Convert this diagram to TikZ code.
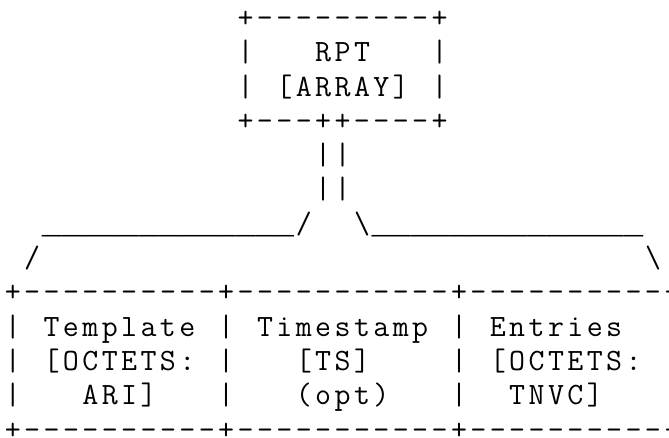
\documentclass[tikz,border=0pt]{standalone}
\usepackage{fontspec}
\newfontfamily\unders{Liberation Mono}
\newcommand\cw{19.4}
\newcommand\lh{34.3}
\newcommand\bl{27.4}
\tikzset{
  asc/.style={inner sep=0pt, outer sep=0pt, anchor=base west, text=black,
    font=\ttfamily\fontsize{31pt}{34.3pt}\selectfont},
  ascu/.style={asc, font=\unders\fontsize{32.33pt}{34.3pt}\selectfont}
}
% spread each character into a fixed-width cell
\def\spreadit#1{\spreadA#1\relax}
\def\spreadA#1{\ifx#1\relax\else\makebox[\cw pt]{#1}\expandafter\spreadA\fi}
% \ascat{name}{row}{col}{text}
\newcommand\ascat[4]{\node[asc] (#1) at ({3.1+\cw*#3 pt},{-(\bl+\lh*#2)*1pt}) {\spreadit{#4}};}
\newcommand\ascatu[4]{\node[ascu] (#1) at ({3.1+\cw*#3 pt},{-(\bl+\lh*#2)*1pt}) {\spreadit{#4}};}
\begin{document}
\begin{tikzpicture}
\path[use as bounding box, clip] (0,0) rectangle (669pt,-437pt);
% RPT box
\ascat{ta}{0}{12}{+---------+}
\ascat{tb}{1}{12}{|}
\ascat{rpt}{1}{16}{RPT}
\ascat{tc}{1}{22}{|}
\ascat{td}{2}{12}{|}
\ascat{arr}{2}{14}{[ARRAY]}
\ascat{te}{2}{22}{|}
\ascat{tf}{3}{12}{+---++----+}
% stem
\ascat{sa}{4}{16}{||}
\ascat{sb}{5}{16}{||}
% branches
\ascatu{bl}{6}{2}{\_\_\_\_\_\_\_\_\_\_\_\_\_}
\ascat{sl}{6}{15}{/}
\ascat{sr}{6}{18}{\textbackslash}
\ascatu{br}{6}{19}{\_\_\_\_\_\_\_\_\_\_\_\_\_\_}
\ascat{cl}{7}{1}{/}
\ascat{cr}{7}{33}{\textbackslash}
% table
\ascat{ra}{8}{0}{+----------+-----------+-----------+}
\ascat{p1}{9}{0}{|}
\ascat{tmpl}{9}{2}{Template}
\ascat{p2}{9}{11}{|}
\ascat{tims}{9}{13}{Timestamp}
\ascat{p3}{9}{23}{|}
\ascat{entr}{9}{25}{Entries}
\ascat{q1}{10}{0}{|}
\ascat{oct1}{10}{2}{[OCTETS:}
\ascat{q2}{10}{11}{|}
\ascat{ts}{10}{15}{[TS]}
\ascat{q3}{10}{23}{|}
\ascat{oct2}{10}{25}{[OCTETS:}
\ascat{u1}{11}{0}{|}
\ascat{ari}{11}{4}{ARI]}
\ascat{u2}{11}{11}{|}
\ascat{opt}{11}{15}{(opt)}
\ascat{u3}{11}{23}{|}
\ascat{tnvc}{11}{26}{TNVC]}
\ascat{rb}{12}{0}{+----------+-----------+-----------+}
\end{tikzpicture}
\end{document}
